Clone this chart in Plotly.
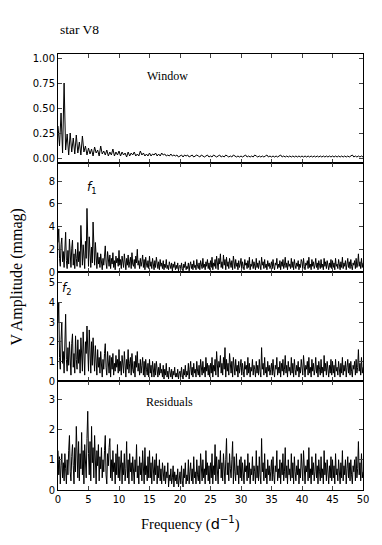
import plotly.graph_objects as go
from plotly.subplots import make_subplots

# Frequency sampling (d^-1): window every 0.25, amplitude spectra every 0.125
WINDOW_STEP = 0.25
SPEC_STEP = 0.125

# Spectral window (0 .. 50 d^-1)
window_amp = [
    0.32, 0.12, 0.45, 0.05, 0.75, 0.08, 0.24, 0.03, 0.25, 0.06, 0.20, 0.04, 0.23, 0.05, 0.16, 0.03, 0.22, 0.06, 0.12, 0.03,
    0.10, 0.04, 0.09, 0.02, 0.11, 0.05, 0.08, 0.02, 0.12, 0.04, 0.07, 0.03, 0.08, 0.02, 0.06, 0.03, 0.09, 0.02, 0.06, 0.03,
    0.07, 0.02, 0.06, 0.03, 0.05, 0.01, 0.06, 0.02, 0.05, 0.03, 0.06, 0.02, 0.04, 0.02, 0.07, 0.03, 0.05, 0.02, 0.04, 0.02,
    0.05, 0.02, 0.04, 0.03, 0.05, 0.02, 0.04, 0.02, 0.05, 0.03, 0.04, 0.02, 0.03, 0.02, 0.04, 0.02, 0.03, 0.02, 0.03, 0.01,
    0.02, 0.03, 0.01, 0.03, 0.02, 0.03, 0.01, 0.02, 0.03, 0.01, 0.02, 0.03, 0.02, 0.01, 0.03, 0.02, 0.01, 0.02, 0.03, 0.01,
    0.02, 0.01, 0.03, 0.02, 0.01, 0.02, 0.03, 0.01, 0.02, 0.01, 0.03, 0.02, 0.01, 0.02, 0.01, 0.03, 0.02, 0.01, 0.02, 0.01,
    0.02, 0.01, 0.02, 0.03, 0.01, 0.02, 0.01, 0.02, 0.01, 0.03, 0.02, 0.01, 0.02, 0.01, 0.02, 0.01, 0.02, 0.03, 0.01, 0.02,
    0.01, 0.02, 0.01, 0.02, 0.01, 0.02, 0.03, 0.01, 0.02, 0.01, 0.02, 0.01, 0.02, 0.01, 0.02, 0.01, 0.02, 0.01, 0.02, 0.01,
    0.02, 0.01, 0.02, 0.01, 0.02, 0.01, 0.02, 0.01, 0.02, 0.01, 0.02, 0.01, 0.02, 0.01, 0.02, 0.01, 0.02, 0.01, 0.02, 0.01,
    0.02, 0.01, 0.02, 0.01, 0.02, 0.01, 0.02, 0.01, 0.02, 0.01, 0.02, 0.01, 0.02, 0.03, 0.01, 0.02, 0.01, 0.02, 0.01, 0.02,
    0.01,
]

# Original data (f1 visible), one row = 2.5 d^-1
f1_amp = [
    2.6, 3.8, 1.2, 0.5, 2.4, 3.0, 0.9, 1.8, 0.4, 2.2, 3.5, 1.0, 0.3, 1.9, 0.7, 2.9, 1.1, 0.4, 2.1, 2.8,
    0.6, 1.6, 0.3, 2.0, 1.2, 0.5, 2.6, 0.9, 1.8, 0.4, 4.1, 1.5, 0.6, 2.4, 1.0, 0.3, 2.7, 1.2, 5.6, 2.0,
    0.5, 3.1, 1.4, 0.4, 2.2, 0.8, 4.4, 1.9, 0.6, 2.6, 1.0, 0.3, 1.7, 0.7, 1.3, 0.4, 1.6, 0.9, 0.2, 1.2,
    0.6, 1.4, 2.3, 0.8, 0.3, 1.8, 1.1, 0.5, 1.5, 0.3, 1.2, 0.7, 1.7, 0.4, 1.0, 0.2, 1.4, 0.8, 1.2, 0.5,
    1.9, 0.6, 1.1, 0.3, 1.4, 0.8, 0.4, 1.6, 0.9, 0.2, 1.2, 0.6, 1.5, 0.4, 0.9, 1.3, 0.3, 1.7, 0.7, 0.5,
    1.1, 0.3, 1.4, 0.8, 2.0, 0.6, 1.0, 0.3, 1.2, 0.5, 0.9, 1.5, 0.4, 1.1, 0.2, 1.3, 0.7, 0.4, 1.0, 0.3,
    1.4, 0.5, 0.9, 0.3, 1.2, 0.6, 0.2, 1.0, 0.4, 1.3, 0.7, 0.3, 0.9, 0.2, 1.1, 0.5, 0.8, 0.3, 1.0, 0.2,
    0.7, 0.4, 1.1, 0.3, 0.6, 0.2, 0.9, 0.5, 0.3, 0.8, 0.1, 0.7, 0.4, 0.9, 0.2, 0.6, 0.3, 0.8, 0.1, 0.5,
    0.6, 0.2, 0.8, 0.3, 0.1, 0.7, 0.4, 0.9, 0.2, 0.5, 0.3, 0.8, 0.1, 0.6, 0.9, 0.3, 0.7, 0.2, 1.0, 0.4,
    0.6, 0.2, 1.1, 0.5, 0.3, 0.8, 0.2, 1.0, 0.6, 0.3, 1.2, 0.4, 0.7, 0.2, 0.9, 0.5, 1.1, 0.3, 0.8, 0.2,
    1.0, 0.4, 1.3, 0.2, 0.8, 0.5, 1.1, 0.3, 1.4, 0.6, 0.2, 1.2, 0.7, 1.6, 0.4, 0.9, 0.3, 1.5, 0.6, 1.1,
    0.2, 1.3, 0.5, 0.9, 0.3, 1.2, 0.7, 0.4, 1.0, 0.2, 1.4, 0.6, 0.3, 1.1, 0.5, 0.8, 0.2, 1.0, 0.4, 0.7,
    1.2, 0.3, 0.9, 0.5, 0.2, 1.1, 0.6, 0.8, 0.3, 1.0, 0.4, 1.3, 0.2, 0.7, 0.5, 1.1, 0.3, 0.9, 0.6, 0.2,
    1.2, 0.4, 0.8, 0.3, 1.0, 0.5, 0.2, 1.3, 0.6, 0.9, 0.3, 1.1, 0.4, 0.7, 0.2, 1.0, 0.5, 0.8, 0.3, 0.6,
    0.9, 0.3, 1.1, 0.5, 0.2, 0.8, 0.6, 1.2, 0.3, 0.7, 0.4, 1.0, 0.2, 0.9, 0.5, 1.1, 0.3, 0.6, 1.3, 0.4,
    0.8, 0.2, 1.0, 0.5, 0.7, 0.3, 1.2, 0.4, 0.9, 0.2, 1.1, 0.6, 0.3, 0.8, 0.5, 1.0, 0.2, 0.7, 0.4, 1.1,
    0.9, 0.3, 1.2, 0.5, 0.2, 0.8, 0.6, 1.0, 0.3, 1.3, 0.4, 0.7, 0.2, 1.1, 0.5, 0.9, 0.3, 0.6, 1.2, 0.4,
    0.8, 0.2, 1.0, 0.6, 0.3, 1.1, 0.4, 0.7, 0.2, 1.2, 0.5, 0.9, 0.3, 1.0, 0.6, 0.2, 0.8, 0.4, 1.1, 0.3,
    1.0, 0.4, 0.8, 0.2, 1.2, 0.5, 0.7, 0.3, 1.1, 0.6, 0.2, 0.9, 0.4, 1.3, 0.3, 0.8, 0.5, 1.0, 0.2, 0.7,
    1.2, 0.4, 0.9, 0.3, 1.1, 0.5, 0.2, 0.8, 0.6, 1.0, 0.3, 1.2, 0.4, 0.7, 1.6, 0.5, 0.9, 0.3, 1.2, 0.4,
    0.8,
]

# After prewhitening f1 (f2 visible)
f2_amp = [
    3.0, 4.0, 1.2, 0.6, 2.1, 3.0, 0.9, 1.5, 0.4, 2.0, 3.4, 1.1, 0.5, 1.7, 0.8, 2.0, 1.3, 0.3, 1.9, 2.4,
    0.7, 1.4, 0.4, 2.3, 1.1, 0.6, 2.1, 0.9, 1.6, 0.4, 2.2, 1.2, 0.5, 2.5, 1.0, 0.3, 2.0, 1.4, 2.8, 0.9,
    0.5, 2.6, 1.3, 0.4, 2.0, 0.8, 2.2, 1.5, 0.5, 1.8, 0.9, 0.3, 1.6, 0.7, 1.2, 0.4, 1.5, 0.8, 0.2, 1.1,
    0.6, 1.4, 1.9, 0.7, 0.3, 1.5, 1.0, 0.4, 1.3, 0.2, 1.2, 0.6, 1.4, 0.3, 0.9, 0.5, 1.3, 0.7, 1.1, 0.4,
    1.6, 0.5, 1.0, 0.3, 1.3, 0.7, 0.4, 1.5, 0.8, 0.2, 1.1, 0.6, 1.6, 0.4, 0.9, 1.2, 0.3, 1.4, 0.6, 0.4,
    1.0, 0.2, 1.3, 0.7, 1.5, 0.5, 0.9, 0.3, 1.1, 0.4, 0.8, 1.2, 0.3, 1.0, 0.2, 1.1, 0.6, 0.3, 0.9, 0.2,
    1.1, 0.4, 0.8, 0.2, 1.0, 0.5, 0.2, 0.9, 0.3, 1.0, 0.6, 0.2, 0.7, 0.3, 0.9, 0.4, 0.6, 0.2, 0.8, 0.1,
    0.6, 0.3, 0.9, 0.2, 0.5, 0.1, 0.7, 0.4, 0.2, 0.6, 0.1, 0.5, 0.3, 0.7, 0.2, 0.4, 0.2, 0.6, 0.1, 0.4,
    0.5, 0.2, 0.7, 0.3, 0.1, 0.6, 0.3, 0.8, 0.2, 0.5, 0.3, 0.9, 0.1, 0.6, 1.0, 0.3, 0.7, 0.2, 0.9, 0.4,
    0.6, 0.2, 1.0, 0.5, 0.3, 0.8, 0.2, 1.1, 0.6, 0.3, 1.0, 0.4, 0.7, 0.2, 1.2, 0.5, 0.9, 0.3, 0.8, 0.2,
    0.9, 0.4, 1.2, 0.2, 0.8, 0.5, 1.1, 0.3, 1.5, 0.6, 0.2, 1.0, 0.7, 1.3, 0.4, 0.9, 0.3, 1.2, 0.6, 1.7,
    0.2, 1.1, 0.5, 0.9, 0.3, 1.4, 0.7, 0.4, 1.0, 0.2, 1.2, 0.6, 0.3, 1.1, 0.5, 0.8, 0.2, 1.0, 0.4, 0.7,
    1.1, 0.3, 0.9, 0.5, 0.2, 1.0, 0.6, 0.8, 0.3, 1.2, 0.4, 0.9, 0.2, 0.7, 0.5, 1.1, 0.3, 0.8, 0.6, 0.2,
    1.0, 0.4, 0.8, 0.3, 1.1, 0.5, 0.2, 1.7, 0.6, 0.9, 0.3, 1.2, 0.4, 0.7, 0.2, 1.0, 0.5, 0.8, 0.3, 0.6,
    0.9, 0.3, 1.1, 0.5, 0.2, 0.8, 0.6, 1.2, 0.3, 0.7, 0.4, 1.0, 0.2, 0.9, 0.5, 1.1, 0.3, 0.6, 1.3, 0.4,
    0.8, 0.2, 1.0, 0.5, 0.7, 0.3, 1.2, 0.4, 0.9, 0.2, 1.1, 0.6, 0.3, 0.8, 0.5, 1.0, 0.2, 0.7, 0.4, 1.1,
    0.8, 0.3, 1.3, 0.5, 0.2, 0.8, 0.6, 1.0, 0.3, 1.2, 0.4, 0.7, 0.2, 1.1, 0.5, 0.9, 0.3, 0.6, 1.2, 0.4,
    0.8, 0.2, 1.0, 0.6, 0.3, 1.1, 0.4, 0.7, 0.2, 1.3, 0.5, 0.9, 0.3, 1.0, 0.6, 0.2, 0.8, 0.4, 1.1, 0.3,
    1.0, 0.4, 0.8, 0.2, 1.1, 0.5, 0.7, 0.3, 1.0, 0.6, 0.2, 0.9, 0.4, 1.2, 0.3, 0.8, 0.5, 1.0, 0.2, 0.7,
    1.1, 0.4, 0.9, 0.3, 1.0, 0.5, 0.2, 0.8, 0.6, 1.0, 0.3, 1.1, 0.4, 0.7, 1.6, 0.5, 0.9, 0.3, 1.2, 0.4,
    0.7,
]

# Residuals after prewhitening f1 and f2
resid_amp = [
    1.3, 0.5, 1.1, 0.2, 0.8, 1.2, 0.4, 0.9, 0.3, 1.2, 0.7, 0.2, 1.0, 0.5, 1.3, 1.8, 0.6, 0.3, 1.1, 1.5,
    0.8, 0.2, 1.4, 0.6, 2.1, 1.0, 0.4, 1.6, 0.3, 1.2, 0.7, 1.9, 0.5, 1.3, 0.2, 1.5, 0.9, 0.4, 1.7, 2.6,
    1.2, 0.5, 1.6, 0.3, 2.1, 0.9, 1.4, 0.4, 1.8, 0.6, 0.2, 1.3, 0.8, 1.5, 0.3, 1.1, 0.7, 1.4, 0.4, 1.0,
    0.6, 1.3, 1.8, 0.5, 0.2, 1.2, 0.8, 1.4, 1.7, 0.4, 1.0, 0.3, 1.3, 0.6, 0.9, 0.2, 1.2, 0.5, 1.5, 0.4,
    1.1, 0.3, 0.8, 1.3, 0.2, 0.9, 0.5, 1.2, 0.3, 0.7, 1.6, 0.4, 1.0, 0.2, 1.2, 0.6, 0.9, 0.3, 1.1, 0.5,
    0.2, 1.0, 0.6, 1.5, 0.4, 0.8, 0.2, 1.1, 0.5, 0.9, 0.3, 1.3, 0.7, 0.2, 1.4, 0.5, 0.8, 0.3, 1.1, 0.4,
    1.3, 0.4, 0.9, 0.2, 1.1, 0.6, 0.3, 1.0, 0.5, 1.2, 0.2, 0.8, 0.4, 1.0, 0.3, 0.7, 0.2, 0.9, 0.5, 0.3,
    0.8, 0.2, 0.6, 0.4, 0.9, 0.1, 0.5, 0.3, 0.7, 0.2, 0.4, 0.8, 0.1, 0.6, 0.3, 0.5, 0.2, 0.7, 0.1, 0.4,
    0.6, 0.2, 0.8, 0.3, 0.1, 0.7, 0.4, 0.9, 0.2, 0.5, 0.3, 1.0, 0.2, 0.6, 0.9, 0.3, 0.7, 0.2, 1.1, 0.4,
    0.6, 0.2, 1.0, 0.5, 0.3, 0.8, 0.2, 1.2, 0.6, 0.3, 1.0, 0.4, 0.7, 0.2, 1.3, 0.5, 0.9, 0.3, 0.8, 0.2,
    0.9, 0.4, 1.2, 0.2, 0.8, 0.5, 1.5, 0.3, 1.1, 0.6, 0.2, 1.0, 0.7, 1.3, 0.4, 0.9, 0.3, 1.2, 0.6, 0.2,
    1.0, 1.7, 0.5, 0.9, 0.3, 1.2, 0.7, 0.4, 1.0, 1.6, 0.2, 1.1, 0.6, 0.3, 1.2, 0.5, 0.8, 0.2, 1.0, 0.4,
    1.1, 0.3, 0.9, 0.5, 0.2, 1.0, 0.6, 0.8, 0.3, 1.2, 0.4, 0.9, 0.2, 0.7, 0.5, 1.1, 0.3, 0.8, 0.6, 0.2,
    1.3, 0.4, 0.8, 0.3, 1.1, 0.5, 0.2, 1.7, 0.6, 0.9, 0.3, 1.2, 0.4, 0.7, 0.2, 1.0, 0.5, 0.8, 0.3, 0.6,
    1.0, 0.3, 1.1, 0.5, 0.2, 0.8, 0.6, 1.3, 0.3, 0.7, 0.4, 1.0, 0.2, 0.9, 0.5, 1.2, 0.3, 0.6, 1.4, 0.4,
    0.8, 0.2, 1.0, 0.5, 0.7, 0.3, 1.2, 0.4, 0.9, 0.2, 1.1, 0.6, 0.3, 0.8, 0.5, 1.0, 0.2, 0.7, 0.4, 1.2,
    0.8, 0.3, 1.3, 0.5, 0.2, 0.8, 0.6, 1.0, 0.3, 1.4, 0.4, 0.7, 0.2, 1.1, 0.5, 0.9, 0.3, 0.6, 1.2, 0.4,
    0.8, 0.2, 1.0, 0.6, 0.3, 1.1, 0.4, 0.7, 0.2, 1.3, 0.5, 0.9, 0.3, 1.0, 0.6, 0.2, 0.8, 0.4, 1.1, 0.3,
    1.0, 0.4, 0.8, 0.2, 1.2, 0.5, 0.7, 0.3, 1.0, 0.6, 0.2, 0.9, 0.4, 1.3, 0.3, 0.8, 0.5, 1.0, 0.2, 0.7,
    1.1, 0.4, 0.9, 0.3, 1.0, 0.5, 0.2, 0.8, 0.6, 1.0, 0.3, 1.1, 0.4, 0.7, 1.6, 0.5, 0.9, 0.3, 1.2, 0.4,
    0.6,
]

x_ticks = [0, 5, 10, 15, 20, 25, 30, 35, 40, 45, 50]

_SANS = "DejaVu Sans, sans-serif"
_SERIF = "Liberation Serif, Times New Roman, serif"

panels = [
    (window_amp, WINDOW_STEP, [-0.05, 1.04], [0, 0.25, 0.5, 0.75, 1.0], ".2f"),
    (f1_amp, SPEC_STEP, [0, 9.6], [0, 2, 4, 6, 8], "d"),
    (f2_amp, SPEC_STEP, [0, 5.55], [0, 1, 2, 3, 4, 5], "d"),
    (resid_amp, SPEC_STEP, [0, 3.6], [0, 1, 2, 3], "d"),
]

fig = make_subplots(rows=4, cols=1, shared_xaxes=True, vertical_spacing=0)

for i, (amp, step, yr, yt, fmt) in enumerate(panels):
    freq = [k * step for k in range(len(amp))]
    fig.add_trace(
        go.Scatter(x=freq, y=amp, mode="lines",
                   line=dict(color="black", width=1), showlegend=False),
        row=i + 1, col=1,
    )
    fig.update_yaxes(
        range=yr, tickvals=yt, tickformat=fmt,
        ticks="inside", ticklen=4, mirror="ticks", showline=True,
        linecolor="black", linewidth=1, showgrid=False, zeroline=False,
        tickfont=dict(family=_SANS, size=10, color="black"),
        row=i + 1, col=1,
    )
    fig.update_xaxes(
        range=[0, 50], tickvals=x_ticks,
        ticks="inside", ticklen=4, mirror="allticks", showline=True,
        linecolor="black", linewidth=1, showgrid=False, zeroline=False,
        showticklabels=(i == 3),
        tickfont=dict(family=_SANS, size=10, color="black"),
        row=i + 1, col=1,
    )

ann = [
    dict(text="star V8", xref="paper", yref="paper", x=0, y=1.035,
         xanchor="left", yanchor="bottom", font=dict(family=_SERIF, size=13.5)),
    dict(text="Window", xref="x", yref="y", x=17.9, y=0.82,
         font=dict(family=_SERIF, size=12)),
    dict(text="<i>f</i><sub>1</sub>", xref="x2", yref="y2", x=5.5, y=7.4,
         font=dict(family=_SANS, size=12)),
    dict(text="<i>f</i><sub>2</sub>", xref="x3", yref="y3", x=1.4, y=4.7,
         font=dict(family=_SANS, size=12)),
    dict(text="Residuals", xref="x4", yref="y4", x=18.2, y=2.9,
         font=dict(family=_SERIF, size=12)),
    dict(text="V Amplitude (mmag)", xref="paper", yref="paper", x=-0.135, y=0.489,
         textangle=-90, font=dict(family=_SERIF, size=16)),
    dict(text="Frequency (<span style='font-family:DejaVu Sans'>d<sup>\u22121</sup></span>)",
         xref="paper", yref="paper", x=0.436, y=-0.076,
         font=dict(family=_SERIF, size=14.5)),
]
for a in ann:
    a.setdefault("showarrow", False)
    a.setdefault("xanchor", "center")
    a.setdefault("yanchor", "middle")
    a["font"].setdefault("color", "black")

fig.update_layout(
    width=382, height=545,
    paper_bgcolor="white", plot_bgcolor="white",
    margin=dict(l=58, r=19, t=54, b=55),
    annotations=ann,
    showlegend=False,
)

fig.write_html(
    "out.html",
    config={"displayModeBar": False},
    post_script="document.body.style.margin = '0';",
)
